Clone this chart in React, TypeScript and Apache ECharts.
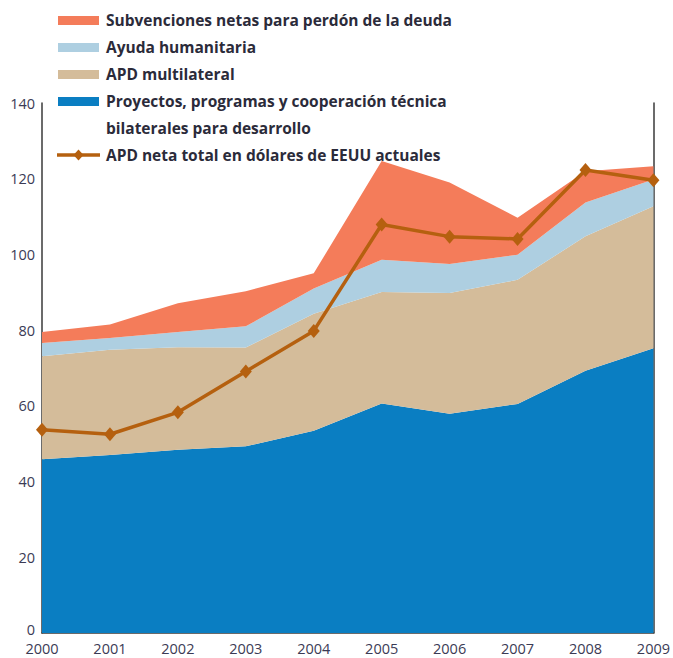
import React, { useEffect, useRef } from "react";
import * as echarts from "echarts";

const years = ["2000", "2001", "2002", "2003", "2004", "2005", "2006", "2007", "2008", "2009"];
const bilateral = [45.9, 47.0, 48.4, 49.3, 53.4, 60.6, 57.9, 60.5, 69.3, 75.2];
const multilateral = [27.2, 27.8, 27.1, 26.1, 30.9, 29.5, 31.9, 32.8, 35.5, 37.5];
const humanitarian = [3.5, 3.1, 4.0, 5.6, 6.7, 8.5, 7.7, 6.6, 8.9, 7.1];
const debtRelief = [2.9, 3.6, 7.6, 9.3, 4.0, 26.1, 21.5, 9.8, 8.3, 3.5];
const totalOda = [53.7, 52.5, 58.3, 69.1, 79.8, 107.9, 104.7, 104.1, 122.3, 119.6];

const names = {
  debt: "Subvenciones netas para perdón de la deuda",
  hum: "Ayuda humanitaria",
  multi: "APD multilateral",
  bil: "Proyectos, programas y cooperación técnica\nbilaterales para desarrollo",
  line: "APD neta total en dólares de EEUU actuales",
};

const C = {
  debt: "#F47C5A",
  hum: "#AECFE1",
  multi: "#D4BC9A",
  bil: "#0A7EC2",
  line: "#B5600F",
  axis: "#3a3a3a",
  label: "#3b3b55",
  legend: "#2b2b3a",
};

const FONT = "'Open Sans', sans-serif";

export default function App() {
  const ref = useRef<HTMLDivElement>(null);
  useEffect(() => {
    document.body.style.margin = "0";
    if (!ref.current) return;
    const chart = echarts.init(ref.current, undefined, { renderer: "svg" });
    const area = (name: string, data: number[], color: string) => ({
      name,
      type: "line",
      stack: "total",
      data,
      symbol: "none",
      lineStyle: { width: 0 },
      areaStyle: { color, opacity: 1 },
      itemStyle: { color },
      z: 1,
    });
    const legendRows = [
      { kind: "rect", color: C.debt, text: names.debt, y: 20 },
      { kind: "rect", color: C.hum, text: names.hum, y: 47 },
      { kind: "rect", color: C.multi, text: names.multi, y: 74 },
      { kind: "rect", color: C.bil, text: names.bil, y: 101 },
      { kind: "line", color: C.line, text: names.line, y: 155 },
    ];
    const graphics: any[] = [];
    legendRows.forEach((r) => {
      if (r.kind === "rect") {
        graphics.push({ type: "rect", left: 58, top: r.y - 4, shape: { width: 41, height: 9 }, style: { fill: r.color } });
      } else {
        graphics.push({ type: "line", shape: { x1: 57, y1: r.y, x2: 100, y2: r.y }, style: { stroke: r.color, lineWidth: 3.5 } });
        graphics.push({ type: "polygon", shape: { points: [[78.5, r.y - 5.5], [83.5, r.y], [78.5, r.y + 5.5], [73.5, r.y]] }, style: { fill: r.color } });
      }
      graphics.push({
        type: "text",
        left: 106,
        top: r.y - 13.5,
        style: { text: r.text, font: `bold 15.5px ${FONT}`, fill: C.legend, lineHeight: 27 },
      });
    });
    chart.setOption({
      animation: false,
      grid: { left: 42, right: 16, top: 103, bottom: 25, containLabel: false },
      xAxis: {
        type: "category",
        data: years,
        boundaryGap: false,
        axisLine: { lineStyle: { color: C.axis, width: 1.5 } },
        axisTick: { show: false },
        axisLabel: { color: C.label, fontFamily: FONT, fontSize: 14.5, margin: 7, lineHeight: 16 },
        splitLine: { show: false },
      },
      yAxis: [
        {
          type: "value",
          min: 0,
          max: 140,
          interval: 20,
          axisLine: { show: true, lineStyle: { color: C.axis, width: 1.5 } },
          axisTick: { show: false },
          axisLabel: {
            color: C.label,
            fontFamily: FONT,
            fontSize: 14.5,
            margin: 7,
            lineHeight: 12,
            formatter: (v: number) => (v === 0 ? "{z|0}" : String(v)),
            rich: {
              z: { color: C.label, fontFamily: FONT, fontSize: 14.5, lineHeight: 12, padding: [0, 0, 8, 0] },
            },
          },
          splitLine: { show: false },
        },
        {
          type: "value",
          position: "right",
          min: 0,
          max: 140,
          interval: 20,
          axisLine: { show: true, lineStyle: { color: C.axis, width: 1.5 } },
          axisTick: { show: false },
          axisLabel: { show: false },
          splitLine: { show: false },
        },
      ],
      series: [
        area(names.bil, bilateral, C.bil),
        area(names.multi, multilateral, C.multi),
        area(names.hum, humanitarian, C.hum),
        area(names.debt, debtRelief, C.debt),
        {
          name: names.line,
          type: "line",
          data: totalOda,
          symbol: "diamond",
          symbolSize: [12, 14],
          lineStyle: { color: C.line, width: 3.5 },
          itemStyle: { color: C.line },
          z: 5,
        },
      ],
      graphic: graphics,
    });
    return () => chart.dispose();
  }, []);
  return <div ref={ref} style={{ width: 673, height: 658 }} />;
}
